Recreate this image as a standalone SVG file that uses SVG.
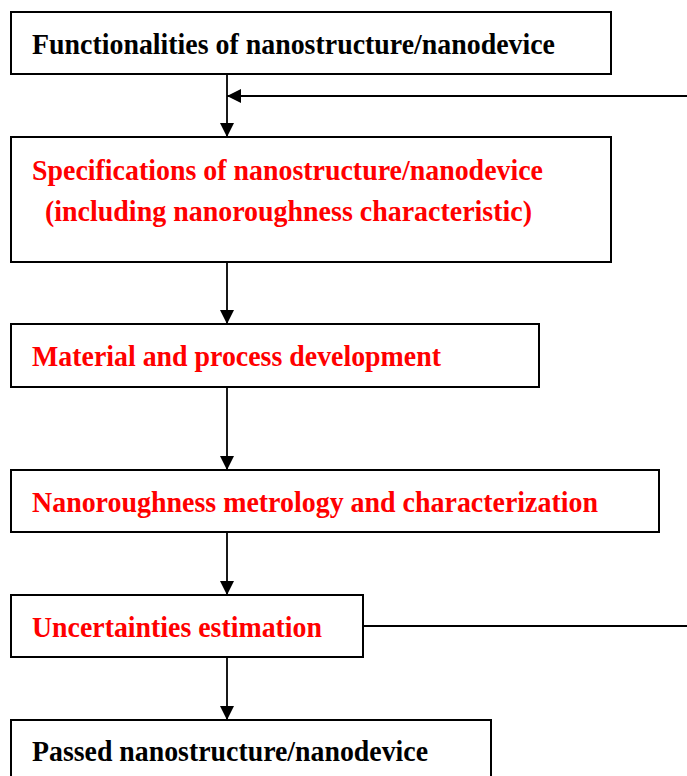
<svg xmlns="http://www.w3.org/2000/svg" width="687" height="776" viewBox="0 0 687 776">
  <style>
    .box { fill: #ffffff; stroke: #000000; stroke-width: 2; }
    .lbl { font-family: "Liberation Serif", "Times New Roman", serif; font-weight: bold; font-size: 29px; }
    .blk { fill: #000000; }
    .red { fill: #ff0000; }
    .wire { fill: none; stroke: #000000; stroke-width: 1.8; }
  </style>
  <defs>
    <marker id="arrow" viewBox="0 0 14 14" refX="14" refY="7" markerWidth="14" markerHeight="14" markerUnits="userSpaceOnUse" orient="auto">
      <path d="M0,0 L14,7 L0,14 Z" fill="#000000"/>
    </marker>
  </defs>

  <rect width="687" height="776" fill="#ffffff"/>

  <!-- flow connectors -->
  <g id="connectors">
    <line class="wire" x1="227" y1="74" x2="227" y2="137" marker-end="url(#arrow)"/>
    <line class="wire" x1="687" y1="96" x2="227" y2="96" marker-end="url(#arrow)"/>
    <line class="wire" x1="227" y1="262" x2="227" y2="324" marker-end="url(#arrow)"/>
    <line class="wire" x1="227" y1="387" x2="227" y2="470" marker-end="url(#arrow)"/>
    <line class="wire" x1="227" y1="532" x2="227" y2="595" marker-end="url(#arrow)"/>
    <line class="wire" x1="227" y1="657" x2="227" y2="720" marker-end="url(#arrow)"/>
    <line class="wire" x1="360" y1="626" x2="687" y2="626"/>
  </g>

  <g id="functionalities">
    <rect class="box" x="11" y="12" width="600" height="62"/>
    <text class="lbl blk" x="32" y="54" textLength="523" lengthAdjust="spacingAndGlyphs">Functionalities of nanostructure/nanodevice</text>
  </g>

  <g id="specifications">
    <rect class="box" x="11" y="137" width="600" height="125"/>
    <text class="lbl red" x="32" y="180" textLength="511" lengthAdjust="spacingAndGlyphs">Specifications of nanostructure/nanodevice</text>
    <text class="lbl red" x="45" y="221" textLength="487" lengthAdjust="spacingAndGlyphs">(including nanoroughness characteristic)</text>
  </g>

  <g id="material-process">
    <rect class="box" x="11" y="324" width="528" height="63"/>
    <text class="lbl red" x="32" y="366" textLength="409" lengthAdjust="spacingAndGlyphs">Material and process development</text>
  </g>

  <g id="metrology">
    <rect class="box" x="11" y="470" width="648" height="62"/>
    <text class="lbl red" x="32" y="512" textLength="566" lengthAdjust="spacingAndGlyphs">Nanoroughness metrology and characterization</text>
  </g>

  <g id="uncertainties">
    <rect class="box" x="11" y="595" width="352" height="62"/>
    <text class="lbl red" x="32" y="637" textLength="290" lengthAdjust="spacingAndGlyphs">Uncertainties estimation</text>
  </g>

  <g id="passed">
    <rect class="box" x="11" y="720" width="480" height="70"/>
    <text class="lbl blk" x="32" y="761" textLength="396" lengthAdjust="spacingAndGlyphs">Passed nanostructure/nanodevice</text>
  </g>
</svg>
